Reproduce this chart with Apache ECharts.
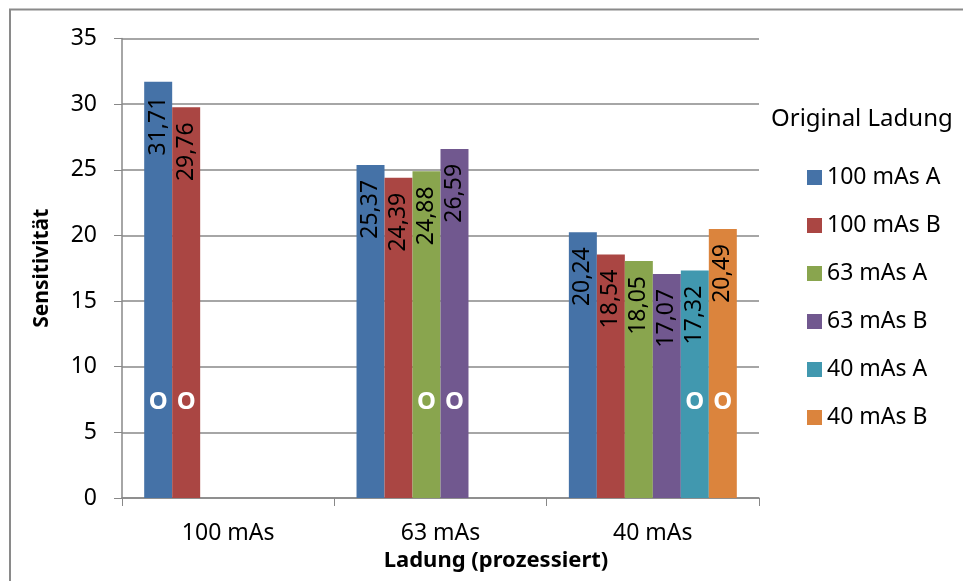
<!DOCTYPE html>
<html>
<head>
<meta charset="utf-8">
<script src="https://cdn.jsdelivr.net/npm/echarts@6/dist/echarts.min.js"></script>
<style>html,body{margin:0;padding:0;background:#fff}#c{width:963px;height:581px}</style>
</head>
<body>
<div id="c"></div>
<script>
const categories = ['100 mAs', '63 mAs', '40 mAs'];
const seriesNames = ['100 mAs A', '100 mAs B', '63 mAs A', '63 mAs B', '40 mAs A', '40 mAs B'];
const s100A = [31.71, 25.37, 20.24];
const s100B = [29.76, 24.39, 18.54];
const s63A = [null, 24.88, 18.05];
const s63B = [null, 26.59, 17.07];
const s40A = [null, null, 17.32];
const s40B = [null, null, 20.49];
const seriesValues = [s100A, s100B, s63A, s63B, s40A, s40B];
// category index where each series carries the "O" (original) marker
const originalCategory = [0, 0, 1, 1, 2, 2];
const originalMarkerValue = 7.3;
const colors = ['#4572A7', '#AA4643', '#89A54E', '#71588F', '#4198AF', '#DB843D'];
const FONT = '"Noto Sans", "DejaVu Sans", sans-serif';

const chart = echarts.init(document.getElementById('c'));
const series = seriesNames.map((name, i) => ({
  name: name,
  type: 'bar',
  barGap: '0%',
  barCategoryGap: '20.9%',
  data: seriesValues[i],
  itemStyle: { color: colors[i] },
  label: {
    show: true,
    position: ['50%', 15],
    rotate: 90,
    align: 'right',
    verticalAlign: 'middle',
    color: '#000',
    fontFamily: FONT,
    fontSize: 23,
    formatter: p => p.value.toFixed(2).replace('.', ',')
  },
  markPoint: {
    symbol: 'circle',
    symbolSize: 0,
    silent: true,
    label: {
      show: true,
      position: 'inside',
      formatter: 'O',
      color: '#fff',
      fontWeight: 'bold',
      fontFamily: FONT,
      fontSize: 24
    },
    data: [{ coord: [originalCategory[i], originalMarkerValue] }]
  }
}));

chart.setOption({
  animation: false,
  backgroundColor: '#fff',
  color: colors,
  textStyle: { fontFamily: FONT },
  title: {
    text: 'Original Ladung',
    left: 771,
    top: 107,
    padding: 0,
    textStyle: { fontFamily: FONT, fontSize: 24, fontWeight: 'normal', color: '#000' }
  },
  legend: {
    orient: 'vertical',
    left: 807,
    top: 166,
    itemWidth: 15,
    itemHeight: 15,
    itemGap: 25,
    icon: 'rect',
    padding: 0,
    data: seriesNames,
    textStyle: { fontFamily: FONT, fontSize: 23, color: '#000' }
  },
  graphic: [{
    type: 'rect',
    shape: { x: 10, y: 9.5, width: 970, height: 600 },
    style: { fill: null, stroke: '#8a8a8a', lineWidth: 2 },
    silent: true
  }],
  grid: { left: 122, right: 204, top: 38.5, bottom: 83 },
  xAxis: {
    type: 'category',
    data: categories,
    name: 'Ladung (prozessiert)',
    nameLocation: 'middle',
    nameGap: 51,
    nameTextStyle: { fontFamily: FONT, fontSize: 22, fontWeight: 'bold', color: '#000', padding: [0, 0, 0, 111] },
    axisLine: { lineStyle: { color: '#888', width: 1.5 } },
    axisTick: { show: true, length: 8, lineStyle: { color: '#888' } },
    axisLabel: { color: '#000', fontSize: 23, fontFamily: FONT, margin: 24 }
  },
  yAxis: {
    type: 'value',
    min: 0,
    max: 35,
    interval: 5,
    name: 'Sensitivität',
    nameLocation: 'middle',
    nameGap: 69,
    nameTextStyle: { fontFamily: FONT, fontSize: 21, fontWeight: 'bold', color: '#000' },
    axisLine: { show: true, lineStyle: { color: '#888', width: 1.5 } },
    axisTick: { show: true, length: 8, lineStyle: { color: '#888' } },
    splitLine: { lineStyle: { color: '#888', width: 1.5 } },
    axisLabel: { color: '#000', fontSize: 23, fontFamily: FONT, margin: 25 }
  },
  series: series
});
</script>
</body>
</html>
